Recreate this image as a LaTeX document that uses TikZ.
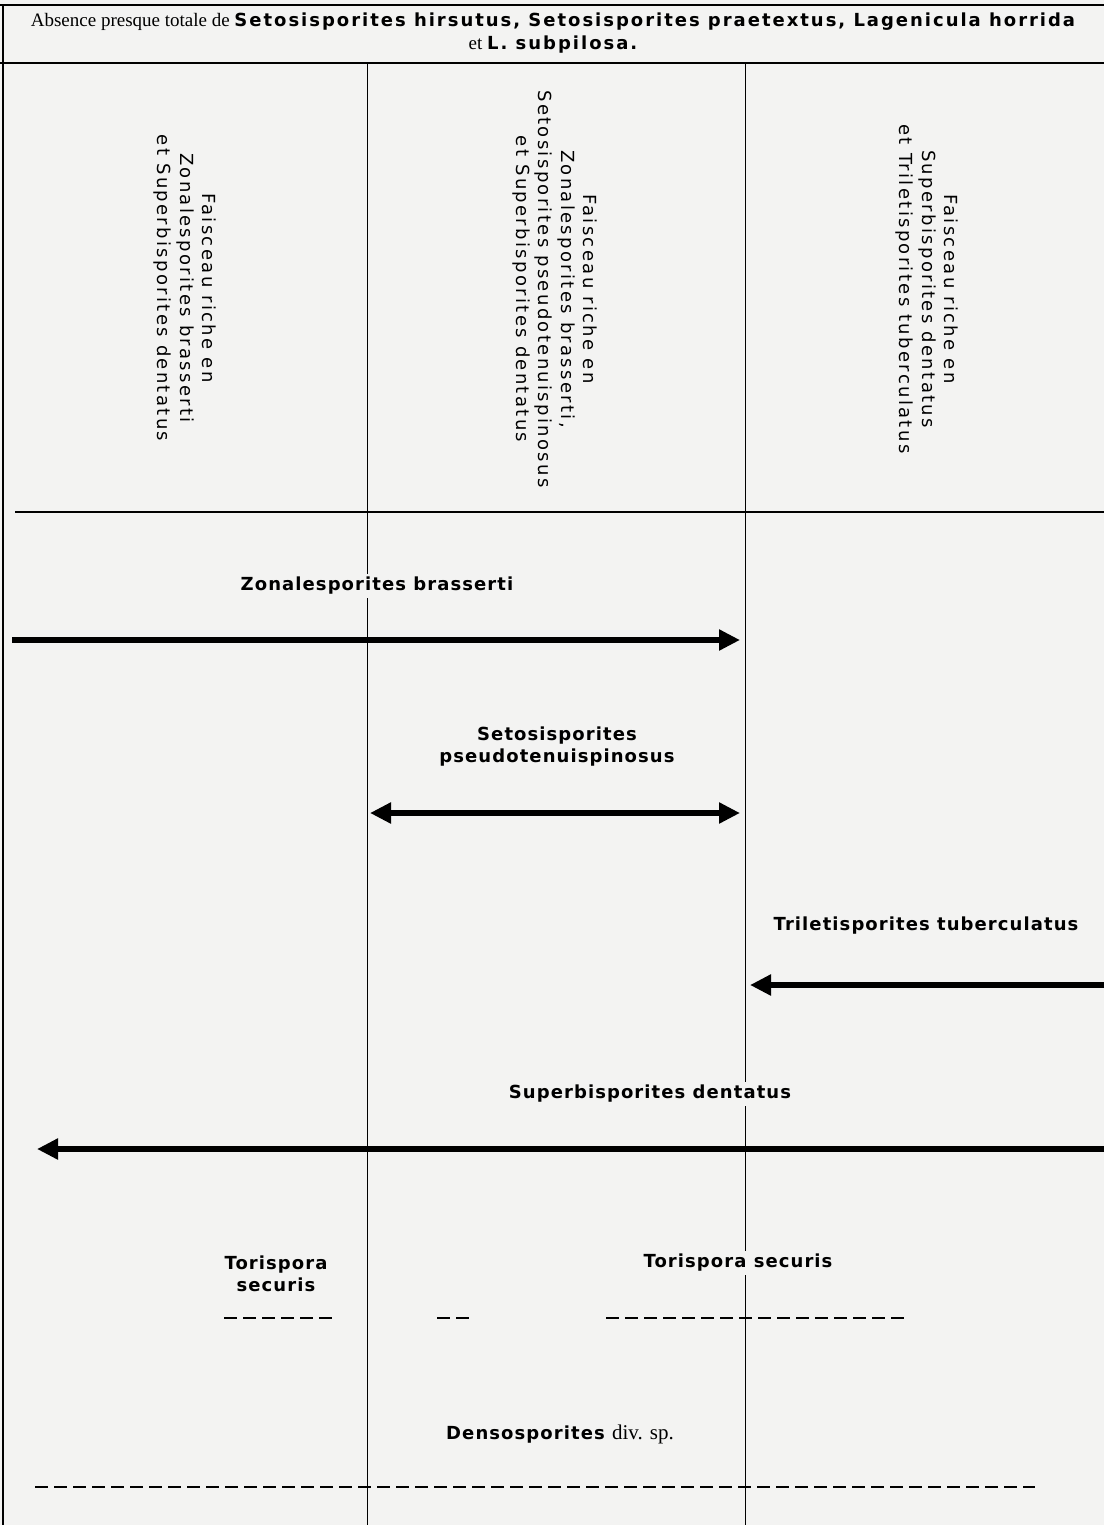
\documentclass[tikz,border=0pt]{standalone}
\usepackage{fontspec}
\setmainfont{Liberation Serif}
\newfontfamily\spname[LetterSpace=6]{DejaVu Sans}
\newfontfamily\sphead[LetterSpace=11]{DejaVu Sans}
\newfontfamily\spcol[LetterSpace=13]{DejaVu Sans}
\usetikzlibrary{arrows.meta}
\definecolor{paper}{RGB}{243,243,242}

\begin{document}
\begin{tikzpicture}[x=1pt,y=-1pt]
\tikzstyle{species} = [font=\spname\bfseries\fontsize{18}{22}\selectfont,
fill=paper, inner sep=3pt, align=center]
\tikzstyle{bundle} = [rotate=-90, align=center, inner sep=0pt,
font=\spcol\fontsize{18}{22.5}\selectfont]
\tikzstyle{frameline} = [draw, line width=2pt]
\tikzstyle{colline} = [draw, line width=1pt]
\tikzstyle{spanarrow} = [draw, line width=5.5pt, -{Triangle[length=21pt,width=20pt]}]
\tikzstyle{dashline} = [draw, line width=2.6pt, dash pattern=on 13pt off 6pt]

\fill[paper] (0,0) rectangle (1104,1525);
\useasboundingbox (0,0) rectangle (1104,1525);

% frame
\path[frameline] (0,5) -- (1104,5);
\path[frameline] (0,63) -- (1104,63);
\path[frameline] (15,512) -- (1104,512);
\path[draw, line width=1.5pt] (3,5) -- (3,1525);
\path[colline] (367,63) -- (367,1525);
\path[colline] (745,63) -- (745,1525);

% header
\node[align=center, inner sep=0pt, font=\sphead\bfseries\fontsize{18}{23}\selectfont] (absence) at (553,33)
{{\rmfamily\mdseries\fontsize{19}{23}\selectfont Absence presque totale de\ }Setosisporites hirsutus, Setosisporites praetextus, Lagenicula horrida\\
{\rmfamily\mdseries\fontsize{19}{23}\selectfont et\ }L. subpilosa.};

% row 1 : bundles
\node[bundle] (bundle1) at (185,288) {Faisceau riche en\\Zonalesporites brasserti\\et Superbisporites dentatus};
\node[bundle] (bundle2) at (555,289) {Faisceau riche en\\Zonalesporites brasserti,\\Setosisporites pseudotenuispinosus\\et Superbisporites dentatus};
\node[bundle] (bundle3) at (927,289) {Faisceau riche en\\Superbisporites dentatus\\et Triletisporites tuberculatus};

% row 2 : ranges
\node[species] (zona) at (377,586) {Zonalesporites brasserti};
\coordinate (zona-a) at (12,640);
\coordinate (zona-b) at (740,640);
\path[spanarrow] (zona-a) -- (zona-b);

\node[species] (seto) at (557,747) {Setosisporites\\pseudotenuispinosus};
\coordinate (seto-a) at (370,813);
\coordinate (seto-b) at (740,813);
\path[spanarrow, {Triangle[length=21pt,width=20pt]}-{Triangle[length=21pt,width=20pt]}] (seto-a) -- (seto-b);

\node[species] (trile) at (926,926) {Triletisporites tuberculatus};
\coordinate (trile-a) at (1104,985);
\coordinate (trile-b) at (750,985);
\path[spanarrow] (trile-a) -- (trile-b);

\node[species] (super) at (650,1094) {Superbisporites dentatus};
\coordinate (super-a) at (1104,1149);
\coordinate (super-b) at (37,1149);
\path[spanarrow] (super-a) -- (super-b);

% row 3 : Torispora
\node[species] (tori1) at (276,1274) {Torispora\\securis};
\node[species] (tori2) at (738,1263) {Torispora securis};
\coordinate (tori-a) at (224,1318);
\coordinate (tori-b) at (335,1318);
\coordinate (tori-c) at (437,1318);
\coordinate (tori-d) at (469,1318);
\coordinate (tori-e) at (606,1318);
\coordinate (tori-f) at (904,1318);
\path[dashline] (tori-a) -- (tori-b);
\path[dashline] (tori-c) -- (tori-d);
\path[dashline] (tori-e) -- (tori-f);

% row 4 : Densosporites
\node[species] (denso) at (560,1434) {Densosporites {\rmfamily\mdseries\fontsize{21}{22}\selectfont div. sp.}};
\coordinate (denso-a) at (35,1487);
\coordinate (denso-b) at (1035,1487);
\path[dashline] (denso-a) -- (denso-b);

\end{tikzpicture}
\end{document}
